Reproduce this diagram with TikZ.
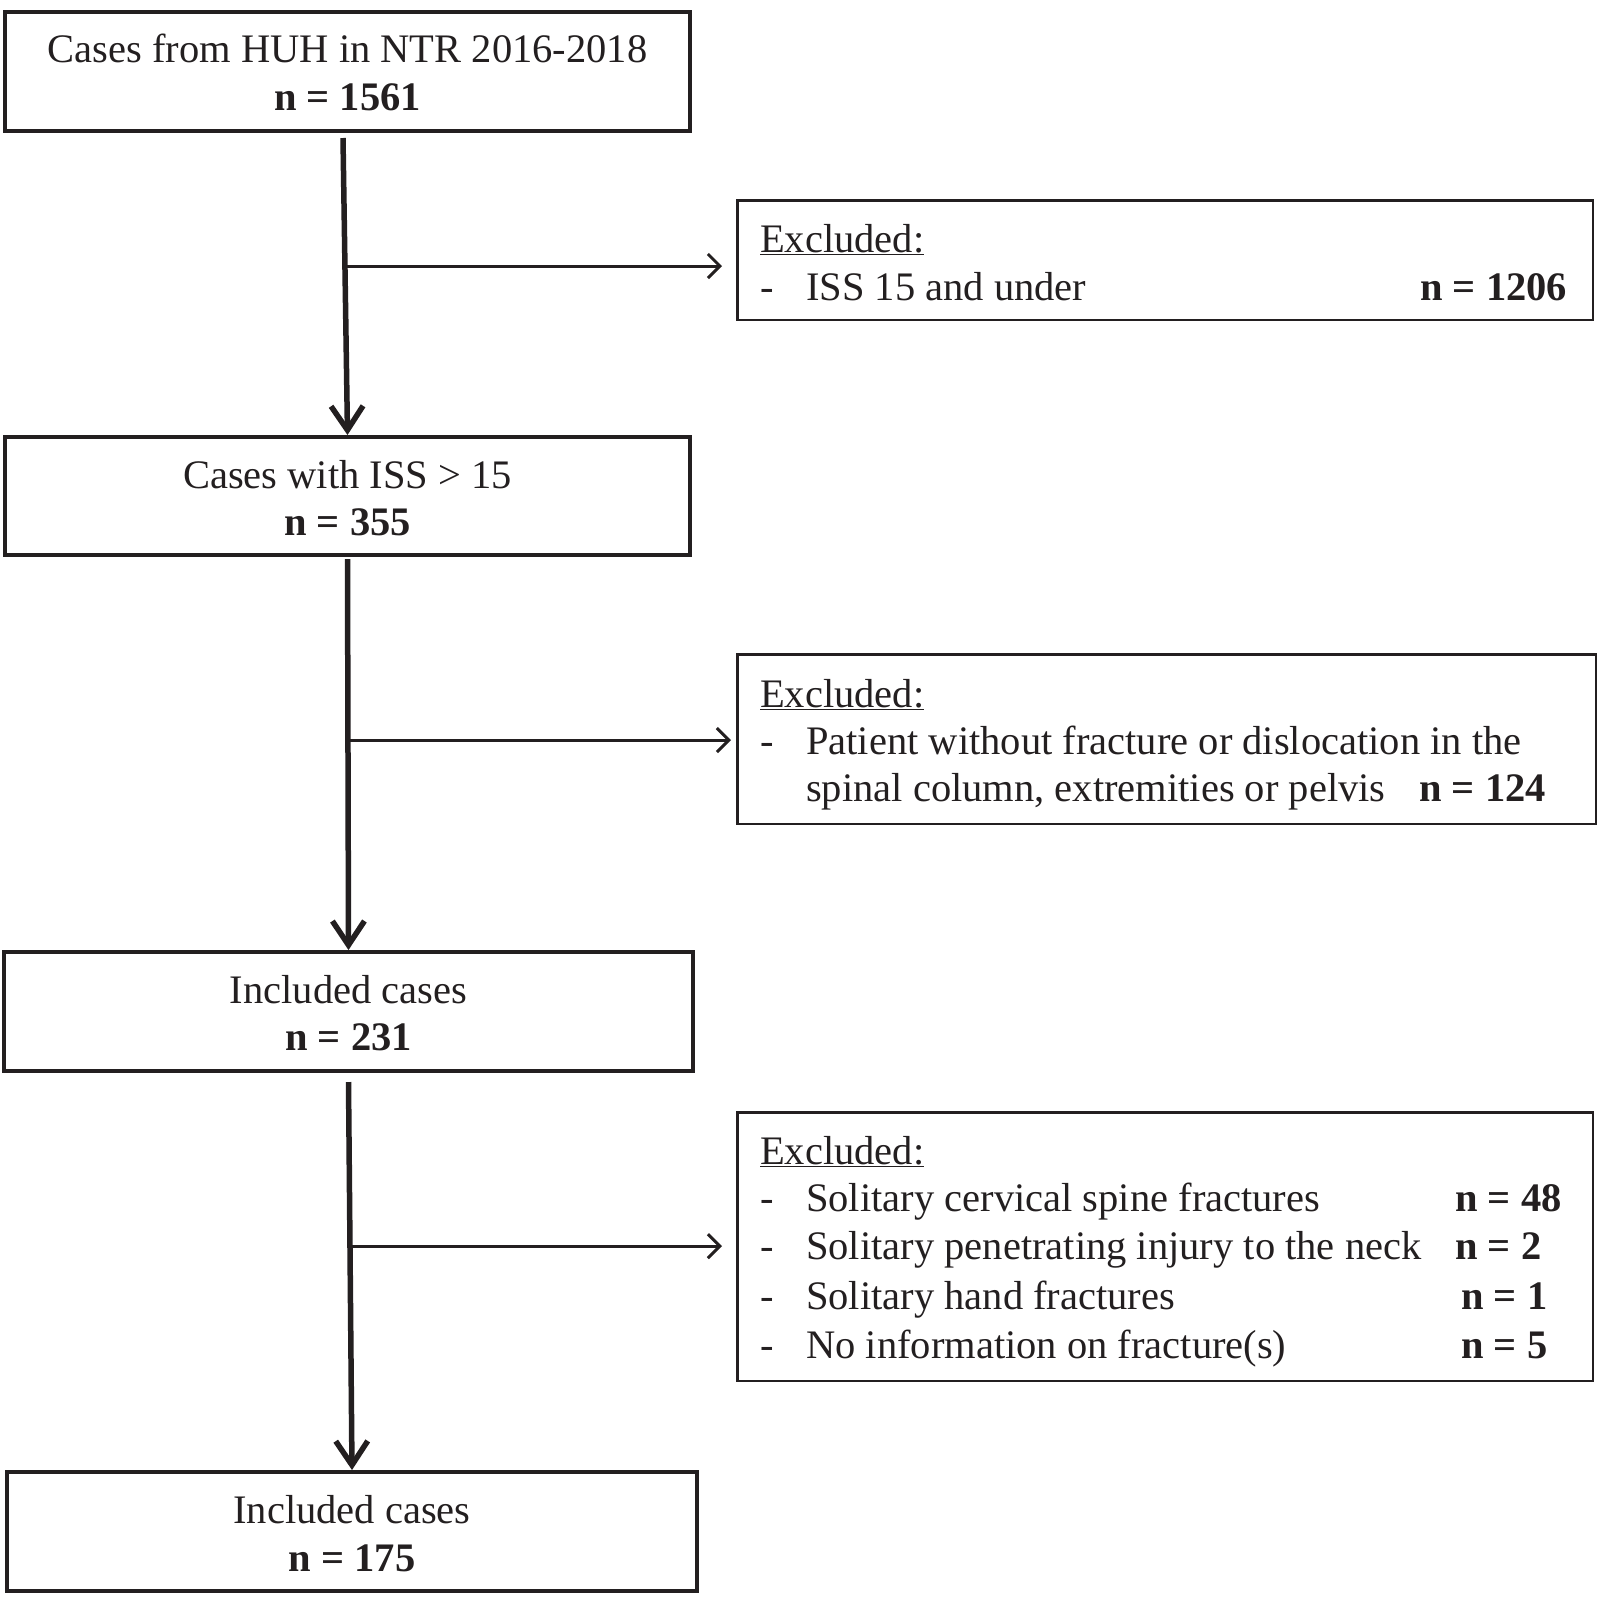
\documentclass[tikz,border=0pt]{standalone}
\usepackage{fontspec}
\setmainfont{Liberation Serif}
\usetikzlibrary{arrows.meta}
\definecolor{ink}{HTML}{231F20}
\begin{document}
\begin{tikzpicture}[x=1pt,y=-1pt,
  mainbox/.style={draw=ink,line width=4pt,rectangle,inner sep=0pt},
  exbox/.style={draw=ink,line width=2.5pt,rectangle,inner sep=0pt},
  txt/.style={text=ink,inner sep=0pt,font=\fontsize{40.5}{47}\selectfont},
  ctxt/.style={txt,anchor=base},
  ltxt/.style={txt,anchor=base west},
  mainarrow/.style={draw=ink,line width=5.5pt,-{Straight Barb[length=24pt,width=32pt,line width=5.5pt]}},
  sidearrow/.style={draw=ink,line width=3pt,-{Straight Barb[length=12pt,width=24pt,line width=3pt]}}
]
\useasboundingbox (0,0) rectangle (1600,1596);
% main boxes
\node[mainbox,minimum width=685pt,minimum height=119pt] (b1) at (347.5,71.5) {};
\node[mainbox,minimum width=685pt,minimum height=118pt] (b2) at (347.5,496) {};
\node[mainbox,minimum width=689pt,minimum height=119pt] (b3) at (348.5,1011.5) {};
\node[mainbox,minimum width=690pt,minimum height=119pt] (b4) at (352,1531.5) {};
% exclusion boxes
\node[exbox,minimum width=855.5pt,minimum height=119.5pt] (e1) at (1165,260) {};
\node[exbox,minimum width=858.5pt,minimum height=169.5pt] (e2) at (1166.5,739) {};
\node[exbox,minimum width=855.5pt,minimum height=268.5pt] (e3) at (1165,1246.5) {};
% main texts
\node[ctxt] (b1a) at (347.5,62) {Cases from HUH in NTR 2016-2018};
\node[ctxt] (b1b) at (347.5,110) {\bfseries n = 1561};
\node[ctxt] (b2a) at (347.5,488) {Cases with ISS > 15};
\node[ctxt] (b2b) at (347.5,535) {\bfseries n = 355};
\node[ctxt] (b3a) at (348.5,1003) {Included cases};
\node[ctxt] (b3b) at (348.5,1050) {\bfseries n = 231};
\node[ctxt] (b4a) at (352,1523) {Included cases};
\node[ctxt] (b4b) at (352,1571) {\bfseries n = 175};
% exclusion 1
\node[ltxt] (e1h) at (760,252) {\underline{Excluded:}};
\node[ltxt] (e1d) at (760,300) {-};
\node[ltxt] (e1i) at (806,300) {ISS 15 and under};
\node[ltxt] (e1n) at (1420,300) {\bfseries n = 1206};
% exclusion 2
\node[ltxt] (e2h) at (760,707) {\underline{Excluded:}};
\node[ltxt] (e2d) at (760,754) {-};
\node[ltxt] (e2i) at (806,754) {Patient without fracture or dislocation in the};
\node[ltxt] (e2j) at (806,801) {spinal column, extremities or pelvis};
\node[ltxt] (e2n) at (1419,801) {\bfseries n = 124};
% exclusion 3
\node[ltxt] (e3h) at (760,1164) {\underline{Excluded:}};
\node[ltxt] (e3d1) at (760,1211) {-};
\node[ltxt] (e3i1) at (806,1211) {Solitary cervical spine fractures};
\node[ltxt] (e3n1) at (1455,1211) {\bfseries n = 48};
\node[ltxt] (e3d2) at (760,1259) {-};
\node[ltxt] (e3i2) at (806,1259) {Solitary penetrating injury to the neck};
\node[ltxt] (e3n2) at (1455,1259) {\bfseries n = 2};
\node[ltxt] (e3d3) at (760,1309) {-};
\node[ltxt] (e3i3) at (806,1309) {Solitary hand fractures};
\node[ltxt] (e3n3) at (1461,1309) {\bfseries n = 1};
\node[ltxt] (e3d4) at (760,1358) {-};
\node[ltxt] (e3i4) at (806,1358) {No information on fracture(s)};
\node[ltxt] (e3n4) at (1461,1358) {\bfseries n = 5};
% main arrows
\draw[mainarrow] ([xshift=-4.5pt,yshift=-5pt]b1.south) -- coordinate[pos=0.431] (j1) (b2.north);
\draw[mainarrow] ([yshift=-2pt]b2.south) -- coordinate[pos=0.463] (j2) (b3.north);
\draw[mainarrow] ([yshift=-9pt]b3.south) -- coordinate[pos=0.423] (j3) (b4.north);
% side arrows
\draw[sidearrow,shorten >=14pt] (j1) -- (j1 -| e1.west);
\draw[sidearrow,shorten >=5pt] (j2) -- (j2 -| e2.west);
\draw[sidearrow,shorten >=14pt] (j3) -- (j3 -| e3.west);
\end{tikzpicture}
\end{document}
